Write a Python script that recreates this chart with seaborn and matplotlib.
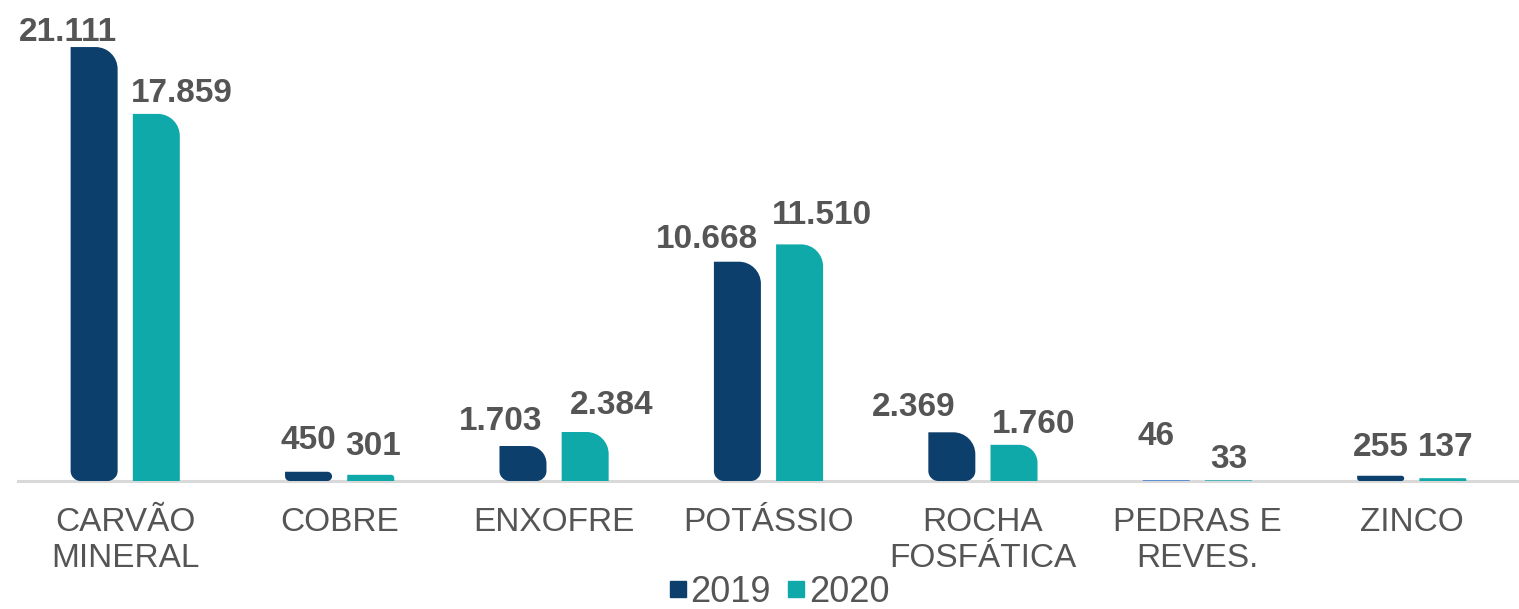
import numpy as np
import pandas as pd
import seaborn as sns
import matplotlib
matplotlib.use("Agg")
import matplotlib.pyplot as plt
from matplotlib.path import Path
from matplotlib.patches import PathPatch
from matplotlib.lines import Line2D

# ---- data ----
categories = ["CARVÃO\nMINERAL", "COBRE", "ENXOFRE", "POTÁSSIO",
              "ROCHA\nFOSFÁTICA", "PEDRAS E\nREVES.", "ZINCO"]
years = ["2019", "2020"]
values_2019 = [21111, 450, 1703, 10668, 2369, 46, 255]
values_2020 = [17859, 301, 2384, 11510, 1760, 33, 137]

# ---- style ----
NAVY = "#0D3F6D"
TEAL = "#10A9A9"
LIGHT_BLUE = "#5A8AD0"
TEXT = "#555555"
label_dx_2019 = [-26, 0, -22, -30, -38, -10, 0]   # px
label_dx_2020 = [26, 2, 26, 22, 20, 0, 3]         # px
label_dy_2019 = [7, 24, 17, 15, 18, 36, 21]       # px
label_dy_2020 = [13, 21, 19, 22, 13, 14, 24]      # px

W, H = 1519, 609
sns.set_theme(style="white")
plt.rcParams["font.family"] = ["Liberation Sans", "DejaVu Sans"]

fig = plt.figure(figsize=(W / 100, H / 100), dpi=100)
ax_left, ax_bottom_px, ax_top_px = 18, 481, 0
ax = fig.add_axes([ax_left / W, (H - ax_bottom_px) / H, (W - ax_left) / W,
                   (ax_bottom_px - ax_top_px) / H])

df = pd.DataFrame({
    "cat": categories * 2,
    "val": values_2019 + values_2020,
    "year": [years[0]] * len(categories) + [years[1]] * len(categories),
})
sns.barplot(data=df, x="cat", y="val", hue="year", palette=[NAVY, TEAL],
            width=0.58, saturation=1, ax=ax, legend=False, errorbar=None)

YMAX = 23400
ax.set_xlim(-0.5, len(categories) - 0.5)
ax.set_ylim(0, YMAX)

sx = (W - ax_left) / len(categories)          # px per x unit
sy = (ax_bottom_px - ax_top_px) / YMAX         # px per y unit


def rounded_path(x0, x1, h, radii):
    """radii in px: (bl, br, tr, tl)"""
    wpx, hpx = (x1 - x0) * sx, h * sy
    lim = min(wpx / 2, hpx / 2)
    bl, br, tr, tl = [min(r, lim) for r in radii]
    k = 0.5523
    def rx(r): return r / sx
    def ry(r): return r / sy
    v, c = [], []
    v.append((x0 + rx(bl), 0)); c.append(Path.MOVETO)
    v.append((x1 - rx(br), 0)); c.append(Path.LINETO)
    v += [(x1 - rx(br) + k * rx(br), 0), (x1, ry(br) - k * ry(br)), (x1, ry(br))]
    c += [Path.CURVE4] * 3
    v.append((x1, h - ry(tr))); c.append(Path.LINETO)
    v += [(x1, h - ry(tr) + k * ry(tr)), (x1 - rx(tr) + k * rx(tr), h), (x1 - rx(tr), h)]
    c += [Path.CURVE4] * 3
    v.append((x0 + rx(tl), h)); c.append(Path.LINETO)
    v += [(x0 + rx(tl) - k * rx(tl), h), (x0, h - ry(tl) + k * ry(tl)), (x0, h - ry(tl))]
    c += [Path.CURVE4] * 3
    v.append((x0, ry(bl))); c.append(Path.LINETO)
    v += [(x0, ry(bl) - k * ry(bl)), (x0 + rx(bl) - k * rx(bl), 0), (x0 + rx(bl), 0)]
    c += [Path.CURVE4] * 3
    v.append((x0 + rx(bl), 0)); c.append(Path.CLOSEPOLY)
    return Path(v, c)


BAR_W_PX = 47
bw = BAR_W_PX / sx
dxs = [label_dx_2019, label_dx_2020]
dys = [label_dy_2019, label_dy_2020]
for i, cont in enumerate(ax.containers):
    for j, bar in enumerate(cont):
        xc = bar.get_x() + bar.get_width() / 2
        h = bar.get_height()
        color = bar.get_facecolor()
        bar.remove()
        if i == 0 and categories[j].startswith("PEDRAS"):
            color = LIGHT_BLUE
        radii = (10, 10, 22, 0) if i == 0 else (0, 0, 22, 0)
        p = PathPatch(rounded_path(xc - bw / 2, xc + bw / 2, h, radii),
                      facecolor=color, edgecolor="none", zorder=2)
        ax.add_patch(p)
        lbl = f"{int(h):,}".replace(",", ".")
        ax.annotate(lbl, (xc, h), xytext=(dxs[i][j] * 0.72, dys[i][j] * 0.72 - 1),
                    textcoords="offset points", ha="center", va="baseline",
                    fontsize=24, fontweight="bold", color=TEXT)

for s in ["left", "right", "top"]:
    ax.spines[s].set_visible(False)
ax.spines["bottom"].set_color("#D9D9D9")
ax.spines["bottom"].set_linewidth(2.2)
ax.spines["bottom"].set_zorder(1)
ax.set_yticks([])
ax.set_xlabel("")
ax.set_ylabel("")
ax.tick_params(axis="x", length=0, pad=19, labelsize=24, labelcolor=TEXT)

handles = [Line2D([], [], marker="s", linestyle="", markersize=12,
                  markerfacecolor=c, markeredgecolor=c) for c in (NAVY, TEAL)]
fig.legend(handles, years, loc="center", bbox_to_anchor=(778 / W, 1 - 592 / H),
           ncol=2, frameon=False, fontsize=26, handlelength=0.6,
           handletextpad=0.05, columnspacing=0.4, labelcolor=TEXT,
           borderpad=0, borderaxespad=0)

fig.savefig("out.png", dpi=100)
